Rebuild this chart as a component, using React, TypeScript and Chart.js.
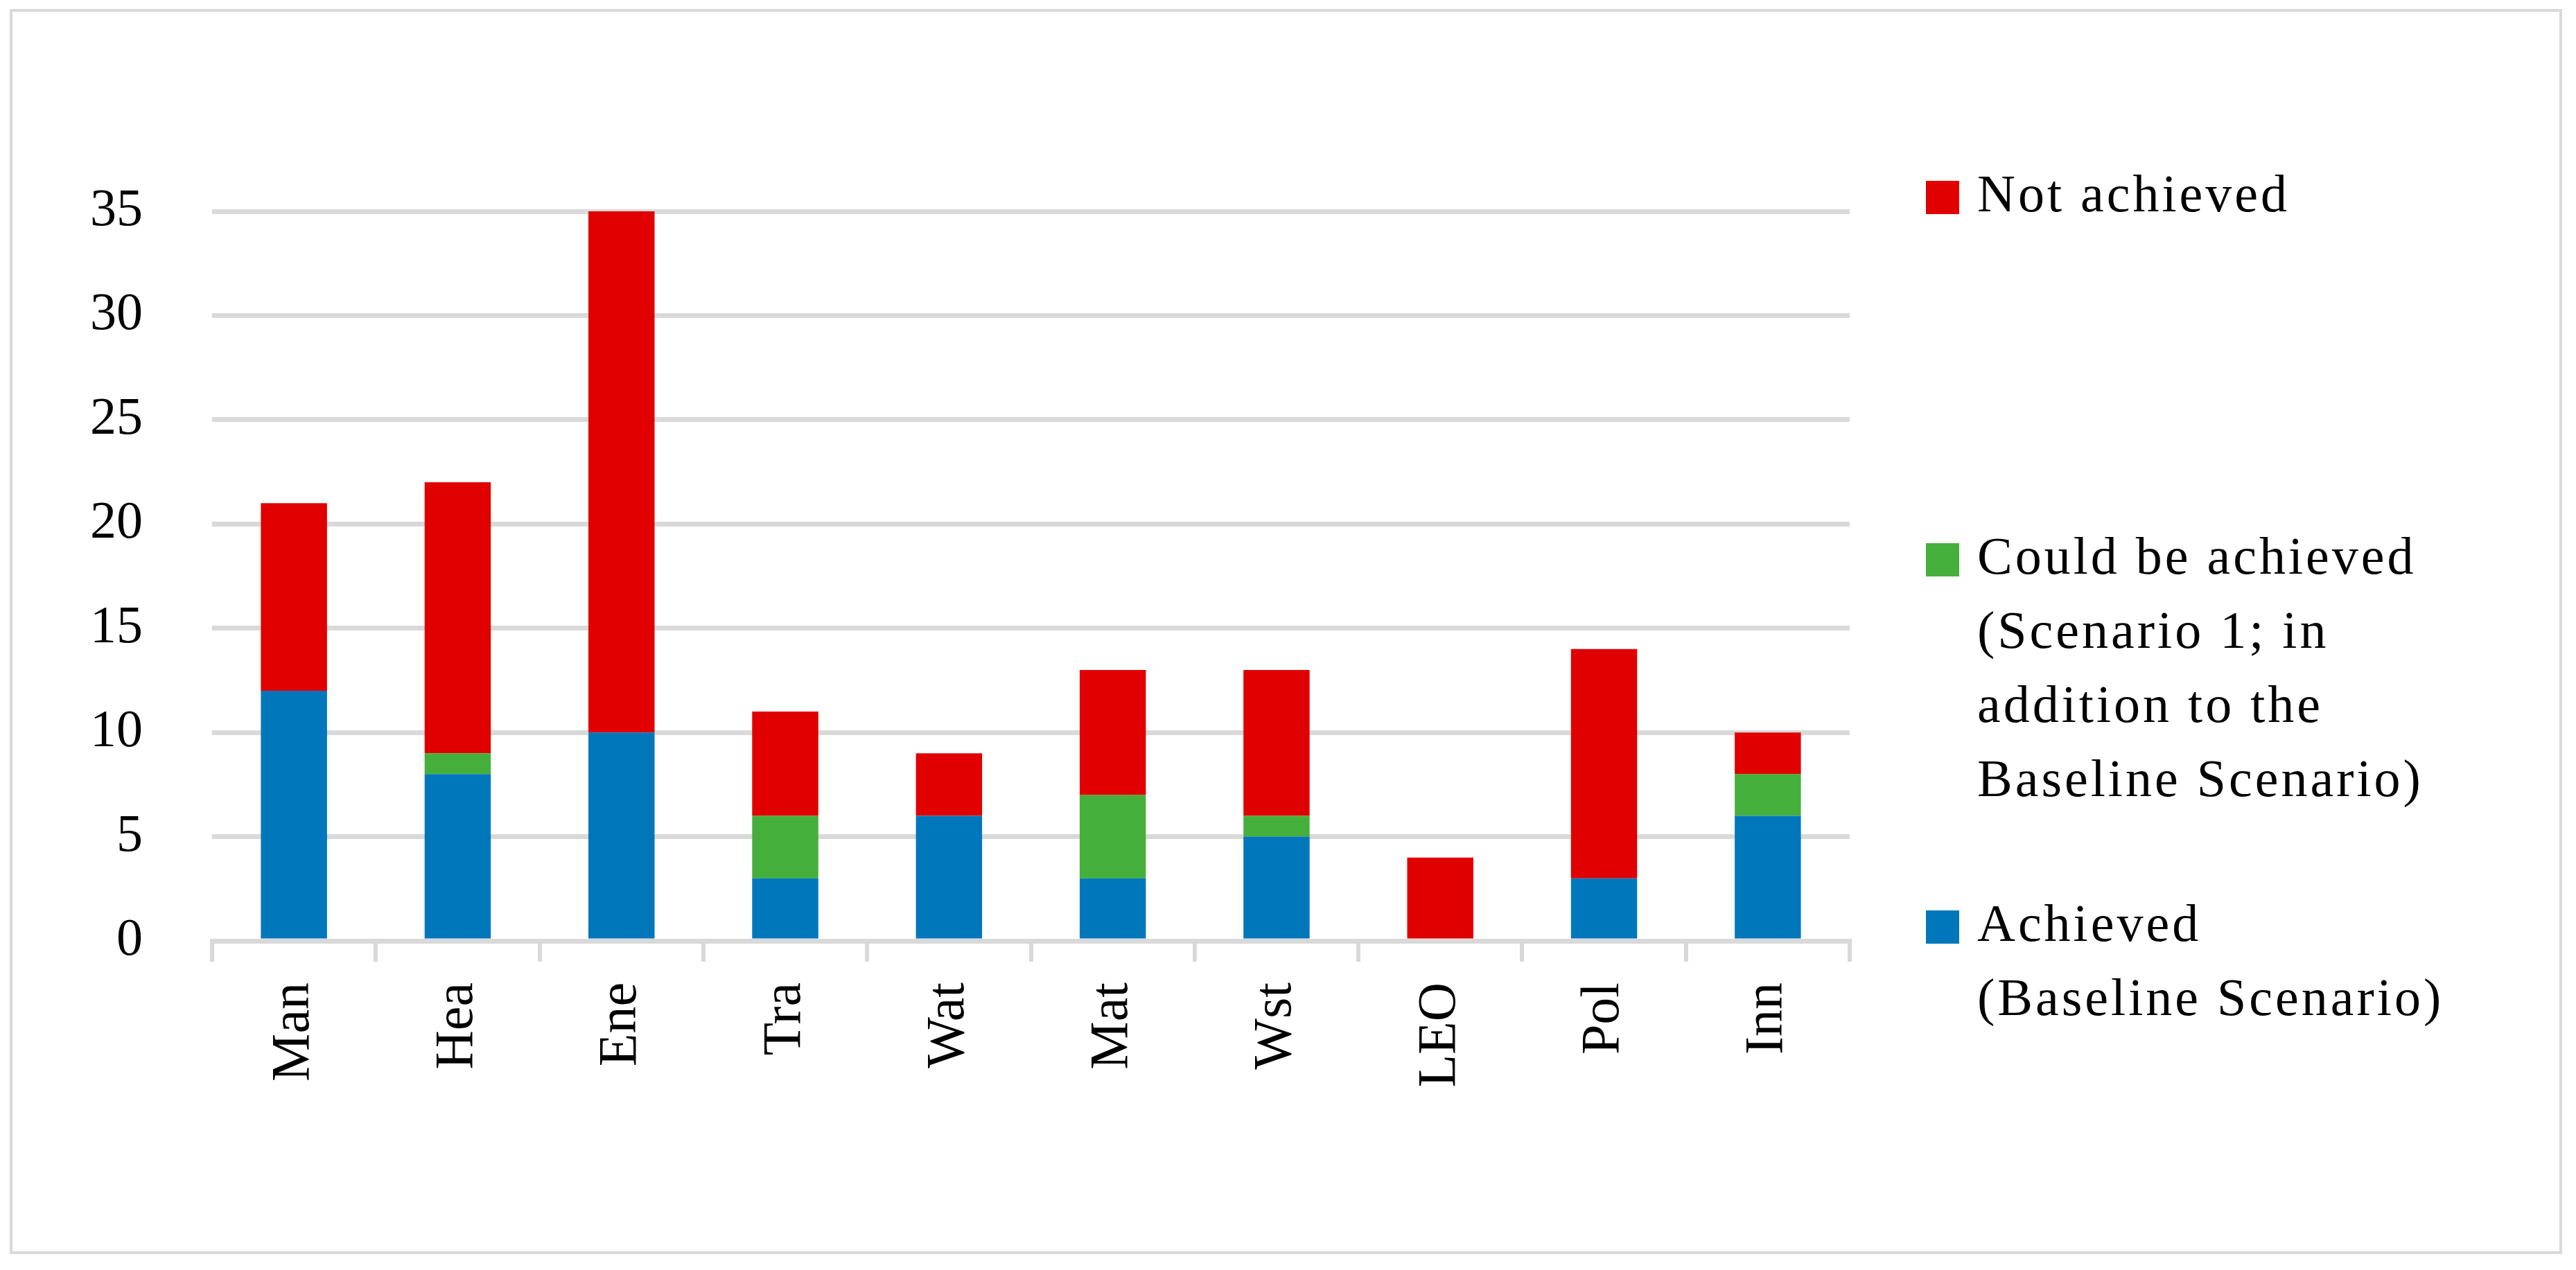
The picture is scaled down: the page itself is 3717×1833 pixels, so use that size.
import React, { useEffect, useRef } from 'react';
import { Chart, registerables } from 'chart.js';

Chart.register(...registerables);

const categories = ['Man', 'Hea', 'Ene', 'Tra', 'Wat', 'Mat', 'Wst', 'LEO', 'Pol', 'Inn'];
const achieved = [12, 8, 10, 3, 6, 3, 5, 0, 3, 6];
const couldBeAchieved = [0, 1, 0, 3, 0, 4, 1, 0, 0, 2];
const notAchieved = [9, 13, 25, 5, 3, 6, 7, 4, 11, 2];

const yMin = 0;
const yMax = 35;
const yStep = 5;

const legendNotAchieved = ['Not achieved'];
const legendCouldBe = ['Could be achieved', '(Scenario 1; in', 'addition to the', 'Baseline Scenario)'];
const legendAchieved = ['Achieved', '(Baseline Scenario)'];

const BLUE = '#0077BB';
const GREEN = '#45AF3C';
const RED = '#E00000';
const GRID = '#D9D9D9';
const FONT = '"Liberation Serif", "Times New Roman", serif';

export default function App() {
  const ref = useRef<HTMLCanvasElement>(null);

  useEffect(() => {
    if (!ref.current) return;

    const sideLegend = {
      id: 'sideLegend',
      afterDraw(chart: any) {
        const { ctx, chartArea } = chart;
        const items = [
          { lines: legendNotAchieved, color: RED, dy: -20 },
          { lines: legendCouldBe, color: GREEN, dy: 503 },
          { lines: legendAchieved, color: BLUE, dy: 1033 },
        ];
        const boxX = chartArea.right + 110;
        const textX = boxX + 74;
        const lineH = 107;
        ctx.save();
        ctx.font = `76px ${FONT}`;
        ctx.textBaseline = 'middle';
        ctx.textAlign = 'left';
        ctx.fillStyle = '#000';
        try { (ctx as any).letterSpacing = '4px'; } catch (e) {}
        items.forEach((it) => {
          const cy = chartArea.top + it.dy;
          ctx.fillStyle = it.color;
          ctx.fillRect(boxX, cy - 24, 48, 48);
          ctx.fillStyle = '#000';
          it.lines.forEach((ln, i) => {
            ctx.fillText(ln, textX, cy + i * lineH);
          });
        });
        ctx.restore();
      },
    };

    const chart = new Chart(ref.current, {
      type: 'bar',
      data: {
        labels: categories,
        datasets: [
          { label: legendAchieved.join(' '), data: achieved, backgroundColor: BLUE, borderWidth: 0 },
          { label: legendCouldBe.join(' '), data: couldBeAchieved, backgroundColor: GREEN, borderWidth: 0 },
          { label: legendNotAchieved.join(' '), data: notAchieved, backgroundColor: RED, borderWidth: 0 },
        ],
      },
      options: {
        responsive: false,
        animation: false,
        devicePixelRatio: 1,
        datasets: { bar: { barPercentage: 0.404, categoryPercentage: 1 } },
        layout: { padding: { left: 0, top: 288, right: 1024, bottom: 0 } },
        plugins: {
          legend: { display: false },
          tooltip: { enabled: false },
          title: { display: false },
        },
        scales: {
          x: {
            stacked: true,
            offset: true,
            grid: {
              display: true,
              drawOnChartArea: false,
              drawTicks: true,
              tickLength: 30,
              color: GRID,
              lineWidth: 6,
              offset: true,
            },
            border: { display: true, color: GRID, width: 7 },
            ticks: {
              minRotation: 90,
              maxRotation: 90,
              autoSkip: false,
              padding: 30,
              color: '#000',
              font: { family: FONT, size: 78 },
            },
            afterFit: (scale: any) => { scale.height = 448; },
          },
          y: {
            stacked: true,
            min: yMin,
            max: yMax,
            grid: { color: GRID, lineWidth: 7, drawTicks: false },
            border: { display: false },
            ticks: {
              stepSize: yStep,
              padding: 100,
              color: '#000',
              font: { family: FONT, size: 76 },
            },
            afterFit: (scale: any) => { scale.width = 288; },
          },
        },
      },
      plugins: [sideLegend],
    } as any);

    return () => chart.destroy();
  }, []);

  return (
    <div
      style={{
        position: 'absolute',
        left: 14,
        top: 13,
        width: 3683,
        height: 1797,
        border: `4px solid ${GRID}`,
        boxSizing: 'border-box',
        background: '#fff',
      }}
    >
      <canvas ref={ref} width={3675} height={1789} style={{ display: 'block', width: 3675, height: 1789 }} />
    </div>
  );
}
